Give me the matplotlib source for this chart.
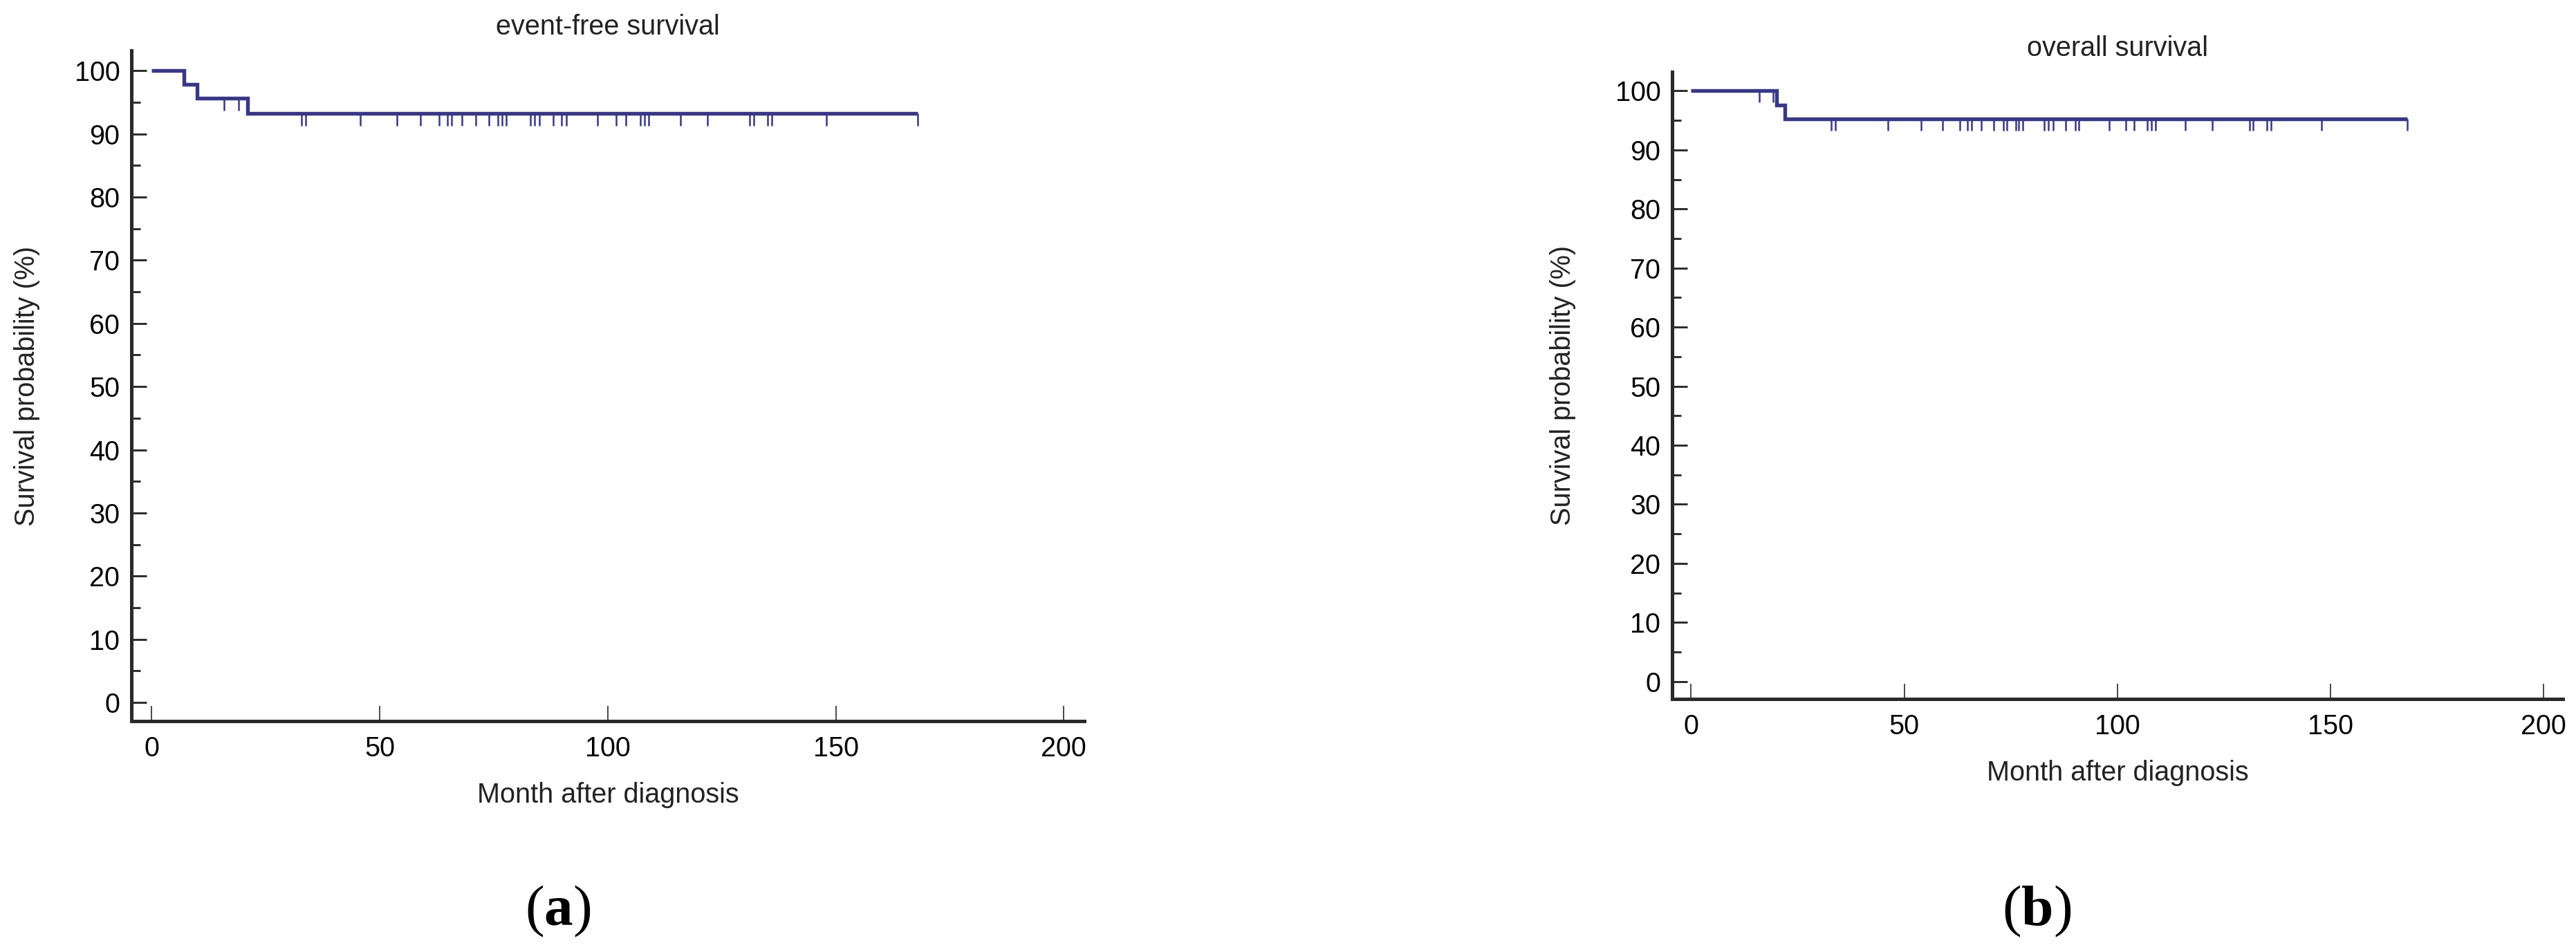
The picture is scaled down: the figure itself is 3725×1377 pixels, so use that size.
import matplotlib.pyplot as plt
import numpy as np

plt.rcParams['font.family'] = ['Liberation Sans', 'DejaVu Sans']
plt.rcParams['mathtext.fontset'] = 'custom'
plt.rcParams['mathtext.rm'] = 'Liberation Serif'
plt.rcParams['mathtext.bf'] = 'Liberation Serif:bold'

# Data (months / survival %)
efs_event_times = [7, 10, 21]
efs_levels = [100, 97.8, 95.6, 93.2]
efs_censor = [15.9, 19.0, 32.8, 33.8, 45.8, 53.8, 59.0, 63.1, 64.9, 65.8, 68.0,
              71.1, 73.9, 75.9, 76.8, 77.8, 83.1, 84.0, 85.0, 88.0, 89.8, 91.0,
              97.8, 101.8, 104.0, 107.1, 108.0, 109.0, 116.0, 121.9, 131.1,
              132.0, 135.1, 136.0, 148.0, 168.0]
efs_end = 168.0

os_event_times = [20, 22]
os_levels = [100, 97.6, 95.2]
os_censor = [16.0, 19.2, 32.9, 33.9, 46.2, 54.0, 59.0, 63.1, 64.9, 65.8, 68.1,
             71.0, 73.2, 74.1, 76.1, 76.9, 77.8, 82.9, 83.8, 85.0, 87.9, 90.1,
             91.0, 98.0, 101.9, 103.9, 107.0, 108.0, 109.0, 115.9, 122.2, 131.0,
             131.9, 135.1, 136.0, 147.9, 168.0]
os_end = 168.0

titles = ["event-free survival", "overall survival"]
panel_labels = ["a", "b"]
x_label = "Month after diagnosis"
y_label = "Survival probability (%)"

line_color = "#383884"
axis_color = "#2a2a2a"

fig = plt.figure(figsize=(3725 / 300, 1377 / 300), dpi=300)
ax_a = fig.add_axes([0.05101, 0.24256, 0.36993, 0.70443])
ax_b = fig.add_axes([0.64913, 0.26580, 0.34577, 0.65868])


def km_panel(ax, event_times, levels, censor, end, title, ylab_x):
    xs = [0] + list(event_times) + [end]
    ys = list(levels) + [levels[-1]]
    ax.step(xs, ys, where='post', color=line_color, lw=1.3,
            solid_joinstyle='miter', solid_capstyle='butt')
    c = np.array(censor)
    lv = np.array(levels)[np.searchsorted(event_times, c, side='right')]
    ax.vlines(c, lv - 1.9, lv, color=line_color, lw=0.6)

    ax.set_xlim(-4.45, 204.5)
    ax.set_ylim(-2.95, 103.2)
    ax.set_xticks(np.arange(0, 201, 50))
    ax.set_yticks(np.arange(0, 101, 10))
    ax.set_yticks(np.arange(5, 100, 10), minor=True)
    ax.spines['top'].set_visible(False)
    ax.spines['right'].set_visible(False)
    for s in ['left', 'bottom']:
        ax.spines[s].set_linewidth(1.2)
        ax.spines[s].set_color(axis_color)
    ax.tick_params(axis='y', which='major', direction='in', length=5.3,
                   width=0.7, color=axis_color, pad=4, labelsize=9.5)
    ax.tick_params(axis='y', which='minor', direction='in', length=3,
                   width=0.7, color=axis_color)
    ax.tick_params(axis='x', which='major', direction='in', length=5.3,
                   width=0.4, color=axis_color, pad=5, labelsize=9.5)
    ax.set_title(title, fontsize=9.5, pad=5.5, color='#222222')
    ax.set_xlabel(x_label, fontsize=9.5, labelpad=7, color='#222222')
    ax.set_ylabel(y_label, fontsize=9.5, color='#222222')
    ax.yaxis.set_label_coords(ylab_x, 0.5)


km_panel(ax_a, efs_event_times, efs_levels, efs_censor, efs_end, titles[0], -0.0958)
km_panel(ax_b, os_event_times, os_levels, os_censor, os_end, titles[1], -0.108)

fig.text(807 / 3725, 1 - 1318 / 1377, r'($\mathbf{%s}$)' % panel_labels[0],
         family='Liberation Serif', fontsize=20, ha='center', va='center')
fig.text(2945 / 3725, 1 - 1318 / 1377, r'($\mathbf{%s}$)' % panel_labels[1],
         family='Liberation Serif', fontsize=20, ha='center', va='center')

fig.savefig("out.png", dpi=300)
